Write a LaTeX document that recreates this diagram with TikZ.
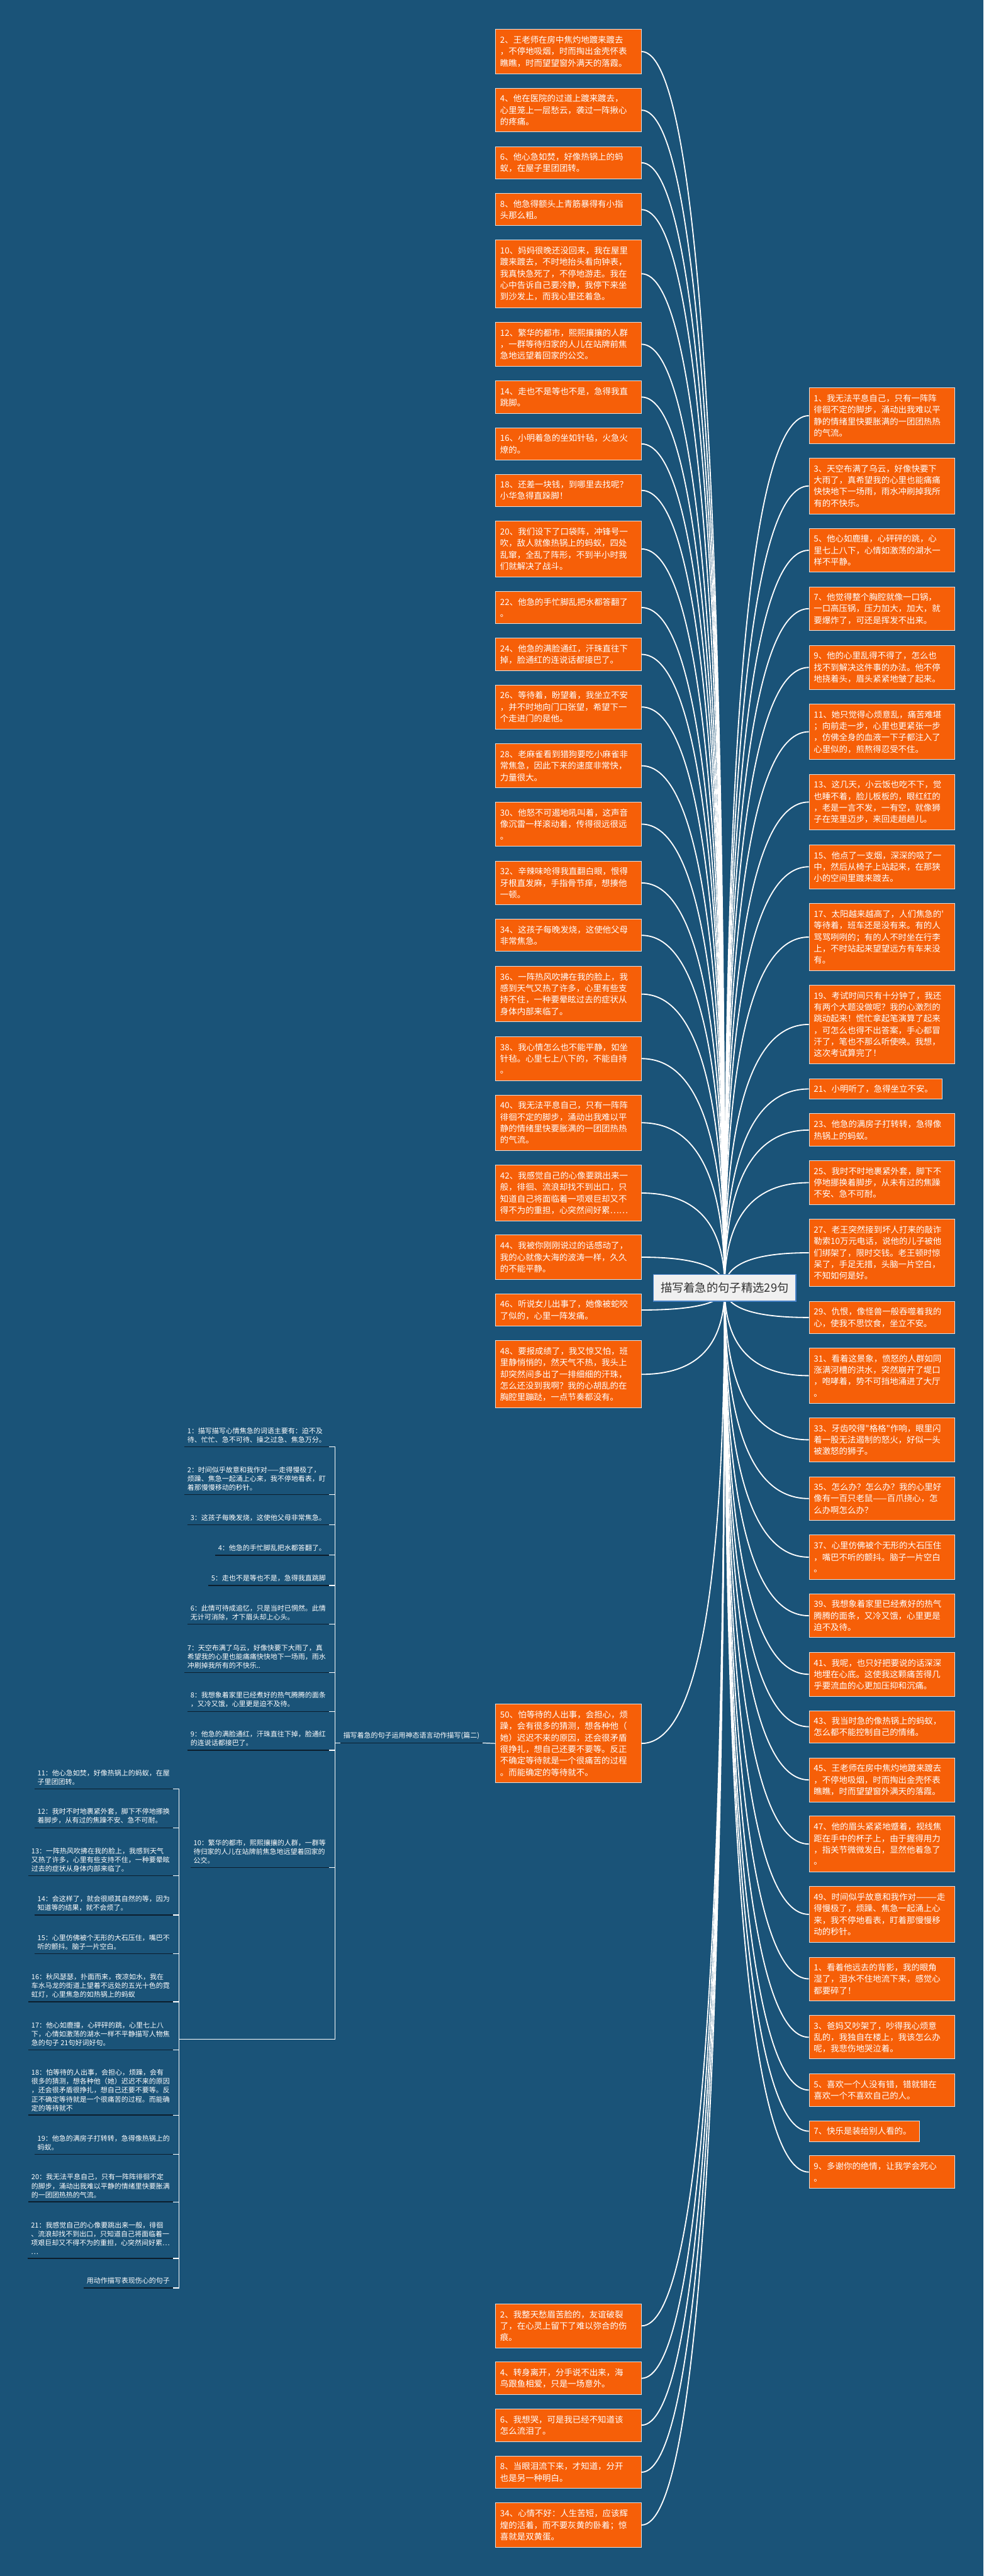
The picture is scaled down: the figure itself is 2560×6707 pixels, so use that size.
\documentclass[tikz,border=0pt]{standalone}
\usepackage{fontspec}
\newfontfamily\cjk{Noto Sans CJK SC}
\usetikzlibrary{calc}
\definecolor{bgc}{RGB}{26,83,120}
\definecolor{orng}{RGB}{246,95,8}
\definecolor{ulc}{RGB}{12,30,45}
\definecolor{cbord}{RGB}{70,130,200}
\definecolor{ctxt}{RGB}{50,50,50}
\definecolor{cfill}{RGB}{240,240,240}
\definecolor{obord}{RGB}{225,225,225}
\tikzset{
 onode/.style={fill=orng, draw=obord, line width=1.5pt, text=white, font=\cjk\fontsize{22}{30}\selectfont, align=left, anchor=north west, text width=355pt, inner xsep=12pt, inner ysep=0pt},
 conn/.style={draw=white, line width=3pt},
 wnode/.style={text=white, font=\cjk\fontsize{18}{23}\selectfont, align=left, anchor=south east, inner xsep=8pt, inner ysep=10pt},
 uline/.style={draw=ulc, line width=2.5pt},
 wline/.style={draw=white, line width=2pt},
 cnode/.style={fill=cfill, draw=cbord, line width=2pt, text=ctxt, font=\cjk\fontsize{30}{36}\selectfont, minimum width=371pt, minimum height=70pt, inner sep=0pt}
}
\newcommand\onode[6][]{\node[onode,minimum height={#5-#4},#1] (#2) at (#3,#4) {#6};}
\newcommand\wnode[4]{\node[wnode] (#1) at (#2,#3) {#4};\draw[uline] (#1.south west) -- (#1.south east);}
\newcommand\lc[1]{\coordinate (k#1) at (ctr |- #1.east);\draw[conn] (ctr) .. controls ($(ctr)!0.6667!(k#1)$) and ($(#1.east)!0.6667!(k#1)$) .. (#1.east);}
\newcommand\rc[1]{\coordinate (k#1) at (ctr |- #1.west);\draw[conn] (ctr) .. controls ($(ctr)!0.6667!(k#1)$) and ($(#1.west)!0.6667!(k#1)$) .. (#1.west);}
\begin{document}
\begin{tikzpicture}[x=1pt,y=-1pt]
\fill[bgc] (0,0) rectangle (2560,6707);
\useasboundingbox (0,0) rectangle (2560,6707);
\coordinate (ctr) at (1886,3353);
% left column
\onode{L2}{1289}{76}{191}{2、王老师在房中焦灼地踱来踱去\\，不停地吸烟，时而掏出金壳怀表\\瞧瞧，时而望望窗外满天的落霞。}
\onode{L4}{1289}{229}{343}{4、他在医院的过道上踱来踱去，\\心里笼上一层愁云，袭过一阵揪心\\的疼痛。}
\onode{L6}{1289}{381}{465}{6、他心急如焚，好像热锅上的蚂\\蚁，在屋子里团团转。}
\onode{L8}{1289}{503}{587}{8、他急得额头上青筋暴得有小指\\头那么粗。}
\onode{L10}{1289}{624}{800}{10、妈妈很晚还没回来，我在屋里\\踱来踱去，不时地抬头看向钟表，\\我真快急死了，不停地游走。我在\\心中告诉自己要冷静，我停下来坐\\到沙发上，而我心里还着急。}
\onode{L12}{1289}{838}{953}{12、繁华的都市，熙熙攘攘的人群\\，一群等待归家的人儿在站牌前焦\\急地远望着回家的公交。}
\onode{L14}{1289}{991}{1075}{14、走也不是等也不是，急得我直\\跳脚。}
\onode{L16}{1289}{1113}{1197}{16、小明着急的坐如针毡，火急火\\燎的。}
\onode{L18}{1289}{1234}{1318}{18、还差一块钱，到哪里去找呢？\\小华急得直跺脚！}
\onode{L20}{1289}{1356}{1501}{20、我们设下了口袋阵，冲锋号一\\吹，敌人就像热锅上的蚂蚁，四处\\乱窜，全乱了阵形，不到半小时我\\们就解决了战斗。}
\onode{L22}{1289}{1539}{1623}{22、他急的手忙脚乱把水都答翻了\\。}
\onode{L24}{1289}{1661}{1745}{24、他急的满脸通红，汗珠直往下\\掉，脸通红的连说话都接巴了。}
\onode{L26}{1289}{1783}{1897}{26、等待着，盼望着，我坐立不安\\，并不时地向门口张望，希望下一\\个走进门的是他。}
\onode{L28}{1289}{1936}{2050}{28、老麻雀看到猎狗要吃小麻雀非\\常焦急，因此下来的速度非常快，\\力量很大。}
\onode{L30}{1289}{2088}{2202}{30、他怒不可遏地吼叫着，这声音\\像沉雷一样滚动着，传得很远很远\\。}
\onode{L32}{1289}{2241}{2355}{32、辛辣味呛得我直翻白眼，恨得\\牙根直发麻，手指骨节痒，想揍他\\一顿。}
\onode{L34}{1289}{2393}{2476}{34、这孩子每晚发烧，这使他父母\\非常焦急。}
\onode{L36}{1289}{2515}{2660}{36、一阵热风吹拂在我的脸上，我\\感到天气又热了许多，心里有些支\\持不住，一种要晕眩过去的症状从\\身体内部来临了。}
\onode{L38}{1289}{2698}{2813}{38、我心情怎么也不能平静，如坐\\针毡。心里七上八下的，不能自持\\。}
\onode{L40}{1289}{2850}{2995}{40、我无法平息自己，只有一阵阵\\徘徊不定的脚步，涌动出我难以平\\静的情绪里快要胀满的一团团热热\\的气流。}
\onode{L42}{1289}{3033}{3178}{42、我感觉自己的心像要跳出来一\\般，徘徊、流浪却找不到出口，只\\知道自己将面临着一项艰巨却又不\\得不为的重担，心突然间好累……}
\onode{L44}{1289}{3215}{3330}{44、我被你刚刚说过的话感动了，\\我的心就像大海的波涛一样，久久\\的不能平静。}
\onode{L46}{1289}{3368}{3452}{46、听说女儿出事了，她像被蛇咬\\了似的，心里一阵发痛。}
\onode{L48}{1289}{3490}{3665}{48、要报成绩了，我又惊又怕，班\\里静悄悄的，然天气不热，我头上\\却突然间多出了一排细细的汗珠，\\怎么还没到我啊？我的心胡乱的在\\胸腔里蹦跶，一点节奏都没有。}
\onode{L50}{1289}{4436}{4641}{50、怕等待的人出事，会担心，烦\\躁，会有很多的猜测，想各种他（\\她）迟迟不来的原因，还会很矛盾\\很挣扎，想自己还要不要等。反正\\不确定等待就是一个很痛苦的过程\\。而能确定的等待就不。}
% right column
\onode{R1}{2105}{1009}{1154}{1、我无法平息自己，只有一阵阵\\徘徊不定的脚步，涌动出我难以平\\静的情绪里快要胀满的一团团热热\\的气流。}
\onode{R3}{2105}{1192}{1337}{3、天空布满了乌云，好像快要下\\大雨了，真希望我的心里也能痛痛\\快快地下一场雨，雨水冲刷掉我所\\有的不快乐。}
\onode{R5}{2105}{1375}{1489}{5、他心如鹿撞，心砰砰的跳，心\\里七上八下，心情如激荡的湖水一\\样不平静。}
\onode{R7}{2105}{1527}{1641}{7、他觉得整个胸腔就像一口锅，\\一口高压锅，压力加大，加大，就\\要爆炸了，可还是挥发不出来。}
\onode{R9}{2105}{1680}{1794}{9、他的心里乱得不得了，怎么也\\找不到解决这件事的办法。他不停\\地挠着头，眉头紧紧地皱了起来。}
\onode{R11}{2105}{1832}{1977}{11、她只觉得心烦意乱，痛苦难堪\\；向前走一步，心里也更紧张一步\\，仿佛全身的血液一下子都注入了\\心里似的，煎熬得忍受不住。}
\onode{R13}{2105}{2016}{2159}{13、这几天，小云饭也吃不下，觉\\也睡不着，脸儿板板的，眼红红的\\，老是一言不发，一有空，就像狮\\子在笼里迈步，来回走趟趟儿。}
\onode{R15}{2105}{2199}{2313}{15、他点了一支烟，深深的吸了一\\中，然后从椅子上站起来，在那狭\\小的空间里踱来踱去。}
\onode{R17}{2105}{2352}{2526}{17、太阳越来越高了，人们焦急的'\\等待着，班车还是没有来。有的人\\骂骂咧咧的；有的人不时坐在行李\\上，不时站起来望望远方有车来没\\有。}
\onode{R19}{2105}{2564}{2769}{19、考试时间只有十分钟了，我还\\有两个大题没做呢？我的心激烈的\\跳动起来！慌忙拿起笔演算了起来\\，可怎么也得不出答案，手心都冒\\汗了，笔也不那么听使唤。我想，\\这次考试算完了！}
\onode[text width=323pt]{R21}{2105}{2808}{2861}{21、小明听了，急得坐立不安。}
\onode{R23}{2105}{2899}{2984}{23、他急的满房子打转转，急得像\\热锅上的蚂蚁。}
\onode{R25}{2105}{3021}{3136}{25、我时不时地裹紧外套，脚下不\\停地挪换着脚步，从未有过的焦躁\\不安、急不可耐。}
\onode{R27}{2105}{3173}{3349}{27、老王突然接到坏人打来的敲诈\\勒索10万元电话，说他的儿子被他\\们绑架了，限时交钱。老王顿时惊\\呆了，手足无措，头脑一片空白，\\不知如何是好。}
\onode{R29}{2105}{3388}{3471}{29、仇恨，像怪兽一般吞噬着我的\\心，使我不思饮食，坐立不安。}
\onode{R31}{2105}{3509}{3653}{31、看着这景象，愤怒的人群如同\\涨满河槽的洪水，突然崩开了堤口\\，咆哮着，势不可挡地涌进了大厅\\。}
\onode{R33}{2105}{3691}{3805}{33、牙齿咬得"格格"作响，眼里闪\\着一股无法遏制的怒火，好似一头\\被激怒的狮子。}
\onode{R35}{2105}{3844}{3958}{35、怎么办？怎么办？我的心里好\\像有一百只老鼠——百爪挠心，怎\\么办啊怎么办？}
\onode{R37}{2105}{3996}{4111}{37、心里仿佛被个无形的大石压住\\，嘴巴不听的颤抖。脑子一片空白\\。}
\onode{R39}{2105}{4149}{4263}{39、我想象着家里已经煮好的热气\\腾腾的面条，又冷又饿，心里更是\\迫不及待。}
\onode{R41}{2105}{4301}{4416}{41、我呢，也只好把要说的话深深\\地埋在心底。这使我这颗痛苦得几\\乎要流血的心更加压抑和沉痛。}
\onode{R43}{2105}{4453}{4537}{43、我当时急的像热锅上的蚂蚁，\\怎么都不能控制自己的情绪。}
\onode{R45}{2105}{4576}{4691}{45、王老师在房中焦灼地踱来踱去\\，不停地吸烟，时而掏出金壳怀表\\瞧瞧，时而望望窗外满天的落霞。}
\onode{R47}{2105}{4728}{4873}{47、他的眉头紧紧地蹙着，视线焦\\距在手中的杯子上，由于握得用力\\，指关节微微发白，显然他着急了\\。}
\onode{R49}{2105}{4911}{5056}{49、时间似乎故意和我作对———走\\得慢极了，烦躁、焦急一起涌上心\\来，我不停地看表，盯着那慢慢移\\动的秒针。}
\onode{Ra1}{2105}{5095}{5208}{1、看着他远去的背影，我的眼角\\湿了，泪水不住地流下来，感觉心\\都要碎了！}
\onode{Ra3}{2105}{5247}{5360}{3、爸妈又吵架了，吵得我心烦意\\乱的，我独自在楼上，我该怎么办\\呢，我悲伤地哭泣着。}
\onode{Ra5}{2105}{5399}{5483}{5、喜欢一个人没有错，错就错在\\喜欢一个不喜欢自己的人。}
\onode[text width=264pt]{Ra7}{2105}{5521}{5575}{7、快乐是装给别人看的。}
\onode{Ra9}{2105}{5612}{5697}{9、多谢你的绝情，让我学会死心\\。}
% bottom column
\onode{B2}{1289}{5998}{6112}{2、我整天愁眉苦脸的，友谊破裂\\了，在心灵上留下了难以弥合的伤\\痕。}
\onode{B4}{1289}{6149}{6234}{4、转身离开，分手说不出来，海\\鸟跟鱼相爱，只是一场意外。}
\onode{B6}{1289}{6271}{6356}{6、我想哭，可是我已经不知道该\\怎么流泪了。}
\onode{B8}{1289}{6394}{6478}{8、当眼泪流下来，才知道，分开\\也是另一种明白。}
\onode{B34}{1289}{6516}{6631}{34、心情不好：人生苦短，应该辉\\煌的活着，而不要灰黄的卧着；惊\\喜就是双黄蛋。}
% middle-left group
\coordinate (bx) at (872,0);
\wnode{SC}{1256}{4538}{描写着急的句子运用神态语言动作描写(篇二)}
\wnode{M1}{856}{3767}{1：描写描写心情焦急的词语主要有：迫不及\\待、忙忙、急不可待、操之过急、焦急万分。}
\wnode{M2}{856}{3891}{2：时间似乎故意和我作对——走得慢极了，\\烦躁、焦急一起涌上心来，我不停地看表，盯\\着那慢慢移动的秒针。}
\wnode{M3}{856}{3970}{3：这孩子每晚发烧，这使他父母非常焦急。}
\wnode{M4}{856}{4049}{4：他急的手忙脚乱把水都答翻了。}
\wnode{M5}{856}{4128}{5：走也不是等也不是，急得我直跳脚}
\wnode{M6}{856}{4229}{6：此情可待成追忆，只是当时已惘然。此情\\无计可消除，才下眉头却上心头。}
\wnode{M7}{856}{4355}{7：天空布满了乌云，好像快要下大雨了，真\\希望我的心里也能痛痛快快地下一场雨，雨水\\冲刷掉我所有的不快乐..}
\wnode{M8}{856}{4456}{8：我想象着家里已经煮好的热气腾腾的面条\\，又冷又饿，心里更是迫不及待。}
\wnode{M9}{856}{4557}{9：他急的满脸通红，汗珠直往下掉，脸通红\\的连说话都接巴了。}
\wnode{M10}{856}{4862}{10：繁华的都市，熙熙攘攘的人群，一群等\\待归家的人儿在站牌前焦急地远望着回家的\\公交。}
\draw[wline] (L50.west) -- (SC.south east);
\draw[wline] (SC.south west) -- (SC.south west -| bx);
\draw[wline] (872,3767) -- (872,5310);
\foreach \n in {M1,M2,M3,M4,M5,M6,M7,M8,M9,M10} {\draw[wline] (\n.south east) -- (\n.south east -| bx);}
% lower-left group
\coordinate (lb) at (466,0);
\wnode{N11}{450}{4658}{11：他心急如焚，好像热锅上的蚂蚁，在屋\\子里团团转。}
\wnode{N12}{450}{4759}{12：我时不时地裹紧外套，脚下不停地挪换\\着脚步，从有过的焦躁不安、急不可耐。}
\wnode{N13}{450}{4884}{13：一阵热风吹拂在我的脸上，我感到天气\\又热了许多，心里有些支持不住，一种要晕眩\\过去的症状从身体内部来临了。}
\wnode{N14}{450}{4986}{14：会这样了，就会很顺其自然的等，因为\\知道等的结果，就不会烦了。}
\wnode{N15}{450}{5087}{15：心里仿佛被个无形的大石压住，嘴巴不\\听的颤抖。脑子一片空白。}
\wnode{N16}{450}{5212}{16：秋风瑟瑟，扑面而来，夜凉如水，我在\\车水马龙的街道上望着不远处的五光十色的霓\\虹灯，心里焦急的如热锅上的蚂蚁}
\wnode{N17}{450}{5337}{17：他心如鹿撞，心砰砰的跳，心里七上八\\下，心情如激荡的湖水一样不平静描写人物焦\\急的句子 21句好词好句。}
\wnode{N18}{450}{5507}{18：怕等待的人出事，会担心，烦躁，会有\\很多的猜测，想各种他（她）迟迟不来的原因\\，还会很矛盾很挣扎，想自己还要不要等。反\\正不确定等待就是一个很痛苦的过程。而能确\\定的等待就不}
\wnode{N19}{450}{5609}{19：他急的满房子打转转，急得像热锅上的\\蚂蚁。}
\wnode{N20}{450}{5733}{20：我无法平息自己，只有一阵阵徘徊不定\\的脚步，涌动出我难以平静的情绪里快要胀满\\的一团团热热的气流。}
\wnode{N21}{450}{5880}{21：我感觉自己的心像要跳出来一般，徘徊\\、流浪却找不到出口，只知道自己将面临着一\\项艰巨却又不得不为的重担，心突然间好累…\\…}
\wnode{N22}{450}{5957}{用动作描写表现伤心的句子}
\draw[wline] (466,4658) -- (466,5957);
\foreach \n in {N11,N12,N13,N14,N15,N16,N17,N18,N19,N20,N21,N22} {\draw[wline] (\n.south east) -- (\n.south east -| lb);}
\coordinate (lbm) at (466,5310);
\draw[wline] (lbm) -- (lbm -| bx);
% connectors from centre
\foreach \n in {L2,L4,L6,L8,L10,L12,L14,L16,L18,L20,L22,L24,L26,L28,L30,L32,L34,L36,L38,L40,L42,L44,L46,L48,L50,B2,B4,B6,B8,B34} {\lc{\n}}
\foreach \n in {R1,R3,R5,R7,R9,R11,R13,R15,R17,R19,R21,R23,R25,R27,R29,R31,R33,R35,R37,R39,R41,R43,R45,R47,R49,Ra1,Ra3,Ra5,Ra7,Ra9} {\rc{\n}}
\node[cnode] (C) at (ctr) {描写着急的句子精选29句};
\end{tikzpicture}
\end{document}
